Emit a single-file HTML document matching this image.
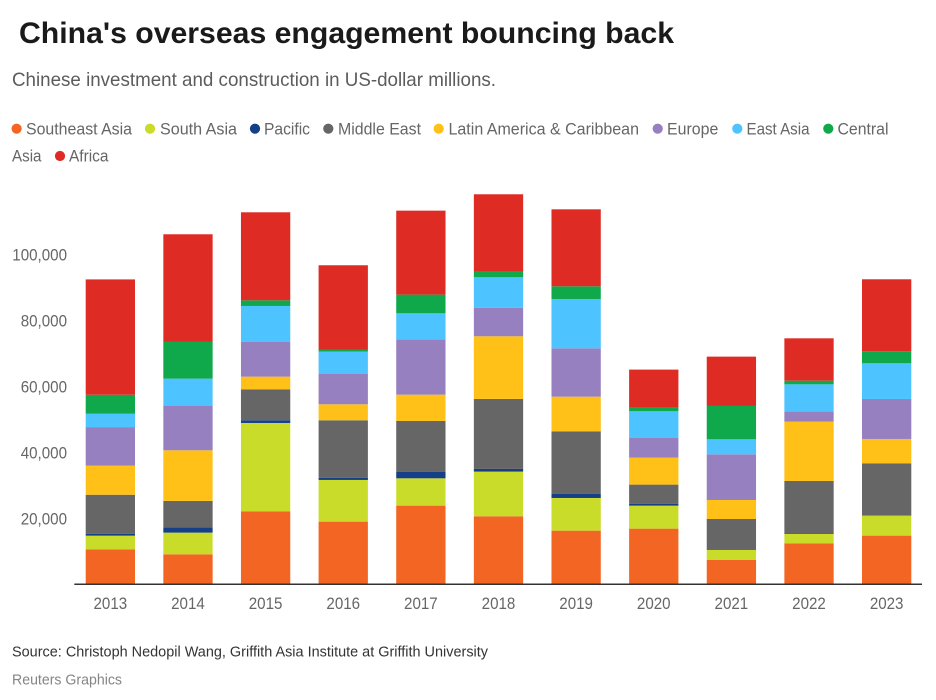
<!DOCTYPE html>
<html lang="en">
<head>
<meta charset="utf-8">
<title>China's overseas engagement bouncing back</title>
<style>
  html, body { margin: 0; padding: 0; background: #ffffff; }
  body { width: 936px; height: 700px; overflow: hidden; }
  svg { display: block; font-family: "Liberation Sans", sans-serif; }
  .legend-label { font-size: 17px; fill: #666666; }
</style>
</head>
<body>
<svg id="chart" xmlns="http://www.w3.org/2000/svg" width="936" height="700" viewBox="0 0 936 700">
  <text x="19" y="43" font-size="30" font-weight="700" fill="#1a1a1a" textLength="655" lengthAdjust="spacingAndGlyphs">China's overseas engagement bouncing back</text>
  <text x="12" y="86" font-size="19.5" fill="#5c5c5c" textLength="484" lengthAdjust="spacingAndGlyphs">Chinese investment and construction in US-dollar millions.</text>

  <g>
    <g>
      <circle cx="16.6" cy="128.7" r="5.1" fill="#f36523"></circle>
      <text class="legend-label" x="26" y="134.5" textLength="106" lengthAdjust="spacingAndGlyphs">Southeast Asia</text>
    </g>
    <g>
      <circle cx="150" cy="128.7" r="5.1" fill="#c9dc2a"></circle>
      <text class="legend-label" x="160" y="134.5" textLength="77" lengthAdjust="spacingAndGlyphs">South Asia</text>
    </g>
    <g>
      <circle cx="255" cy="128.7" r="5.1" fill="#153f87"></circle>
      <text class="legend-label" x="264" y="134.5" textLength="46" lengthAdjust="spacingAndGlyphs">Pacific</text>
    </g>
    <g>
      <circle cx="328.3" cy="128.7" r="5.1" fill="#666666"></circle>
      <text class="legend-label" x="338" y="134.5" textLength="83" lengthAdjust="spacingAndGlyphs">Middle East</text>
    </g>
    <g>
      <circle cx="438.7" cy="128.7" r="5.1" fill="#ffc118"></circle>
      <text class="legend-label" x="448.5" y="134.5" textLength="190.5" lengthAdjust="spacingAndGlyphs">Latin America &amp; Caribbean</text>
    </g>
    <g>
      <circle cx="657.7" cy="128.7" r="5.1" fill="#9680bf"></circle>
      <text class="legend-label" x="667" y="134.5" textLength="51.3" lengthAdjust="spacingAndGlyphs">Europe</text>
    </g>
    <g>
      <circle cx="737.3" cy="128.7" r="5.1" fill="#4dc4ff"></circle>
      <text class="legend-label" x="746.5" y="134.5" textLength="63" lengthAdjust="spacingAndGlyphs">East Asia</text>
    </g>
    <g>
      <circle cx="828.3" cy="128.7" r="5.1" fill="#0fa84b"></circle>
      <text class="legend-label" x="837.5" y="134.5" textLength="51" lengthAdjust="spacingAndGlyphs">Central</text>
      <text class="legend-label" x="12" y="161.5" textLength="29.5" lengthAdjust="spacingAndGlyphs">Asia</text>
    </g>
    <g>
      <circle cx="60" cy="156" r="5.1" fill="#de2c25"></circle>
      <text class="legend-label" x="69" y="161.5" textLength="39.5" lengthAdjust="spacingAndGlyphs">Africa</text>
    </g>
  </g>

  <g id="bars"></g>
  <g id="y-axis"></g>
  <g id="x-axis"></g>

  <text x="12" y="656.5" font-size="15" fill="#333333" textLength="476" lengthAdjust="spacingAndGlyphs">Source: Christoph Nedopil Wang, Griffith Asia Institute at Griffith University</text>
  <text x="12" y="684.5" font-size="15" fill="#858585" textLength="110" lengthAdjust="spacingAndGlyphs">Reuters Graphics</text>
</svg>

<script>
const years = ['2013', '2014', '2015', '2016', '2017', '2018', '2019', '2020', '2021', '2022', '2023'];
const yTickValues = [20000, 40000, 60000, 80000, 100000];
const yTickLabels = ['20,000', '40,000', '60,000', '80,000', '100,000'];

const southeastAsia = [10600, 9090, 22120, 18990, 23840, 20610, 16260, 16870, 7370, 12420, 14750];
const southAsia = [4140, 6570, 26770, 12630, 8280, 13540, 9900, 6970, 3030, 2830, 6060];
const pacific = [600, 1620, 810, 610, 2020, 810, 1210, 510, 0, 200, 0];
const middleEast = [11800, 7980, 9390, 17470, 15350, 21210, 18990, 5860, 9390, 15860, 15860];
const latinAmerica = [8800, 15350, 3840, 4850, 7980, 18990, 10500, 8180, 5760, 17980, 7370];
const europe = [11700, 13540, 10500, 9290, 16770, 8590, 14650, 6060, 13840, 3130, 12120];
const eastAsia = [4040, 8180, 10910, 6670, 7880, 9290, 14950, 7980, 4550, 8180, 10810];
const centralAsia = [5760, 11110, 1720, 510, 5660, 1720, 3840, 1110, 10100, 1110, 3640];
const africa = [34950, 32630, 26670, 25660, 25450, 23430, 23330, 11520, 14950, 12830, 21820];

const seriesKeys = ['southeast-asia', 'south-asia', 'pacific', 'middle-east', 'latin-america', 'europe', 'east-asia', 'central-asia', 'africa'];
const seriesValues = [southeastAsia, southAsia, pacific, middleEast, latinAmerica, europe, eastAsia, centralAsia, africa];
const seriesColors = ['#f36523', '#c9dc2a', '#153f87', '#666666', '#ffc118', '#9680bf', '#4dc4ff', '#0fa84b', '#de2c25'];

const SVG_NS = 'http://www.w3.org/2000/svg';
const plot = { baseline: 584.3, unitsPerPixel: 20000 / 66, firstBarLeft: 85.7, step: 77.63, barWidth: 49.3 };

function yScale(value) {
  return plot.baseline - value / plot.unitsPerPixel;
}

function xScale(index) {
  return plot.firstBarLeft + index * plot.step;
}

function drawBars() {
  const group = document.getElementById('bars');
  years.forEach(function (year, i) {
    let running = 0;
    seriesValues.forEach(function (values, s) {
      const value = values[i];
      if (value <= 0) return;
      const top = yScale(running + value);
      const bottom = yScale(running);
      const rect = document.createElementNS(SVG_NS, 'rect');
      
      
      rect.setAttribute('x', xScale(i));
      rect.setAttribute('y', top);
      rect.setAttribute('width', plot.barWidth);
      rect.setAttribute('height', bottom - top);
      rect.setAttribute('fill', seriesColors[s]);
      group.appendChild(rect);
      running += value;
    });
  });
}

function drawYAxis() {
  const group = document.getElementById('y-axis');
  yTickValues.forEach(function (value, i) {
    const label = document.createElementNS(SVG_NS, 'text');
    
    
    label.setAttribute('x', 67);
    label.setAttribute('y', yScale(value) + 6);
    label.setAttribute('text-anchor', 'end');
    label.setAttribute('font-size', '17');
    label.setAttribute('fill', '#666666');
    label.textContent = yTickLabels[i];
    group.appendChild(label);
    label.setAttribute('textLength', label.getComputedTextLength() * 0.89);
    label.setAttribute('lengthAdjust', 'spacingAndGlyphs');
  });
}

function drawXAxis() {
  const group = document.getElementById('x-axis');
  const line = document.createElementNS(SVG_NS, 'line');
  
  
  line.setAttribute('x1', 74.3);
  line.setAttribute('x2', 922);
  line.setAttribute('y1', plot.baseline);
  line.setAttribute('y2', plot.baseline);
  line.setAttribute('stroke', '#333333');
  line.setAttribute('stroke-width', 1.5);
  group.appendChild(line);
  years.forEach(function (year, i) {
    const label = document.createElementNS(SVG_NS, 'text');
    
    
    label.setAttribute('x', xScale(i) + plot.barWidth / 2);
    label.setAttribute('y', 609);
    label.setAttribute('text-anchor', 'middle');
    label.setAttribute('font-size', '17');
    label.setAttribute('fill', '#666666');
    label.textContent = year;
    group.appendChild(label);
    label.setAttribute('textLength', label.getComputedTextLength() * 0.89);
    label.setAttribute('lengthAdjust', 'spacingAndGlyphs');
  });
}

drawBars();
drawYAxis();
drawXAxis();
</script>
</body>
</html>
